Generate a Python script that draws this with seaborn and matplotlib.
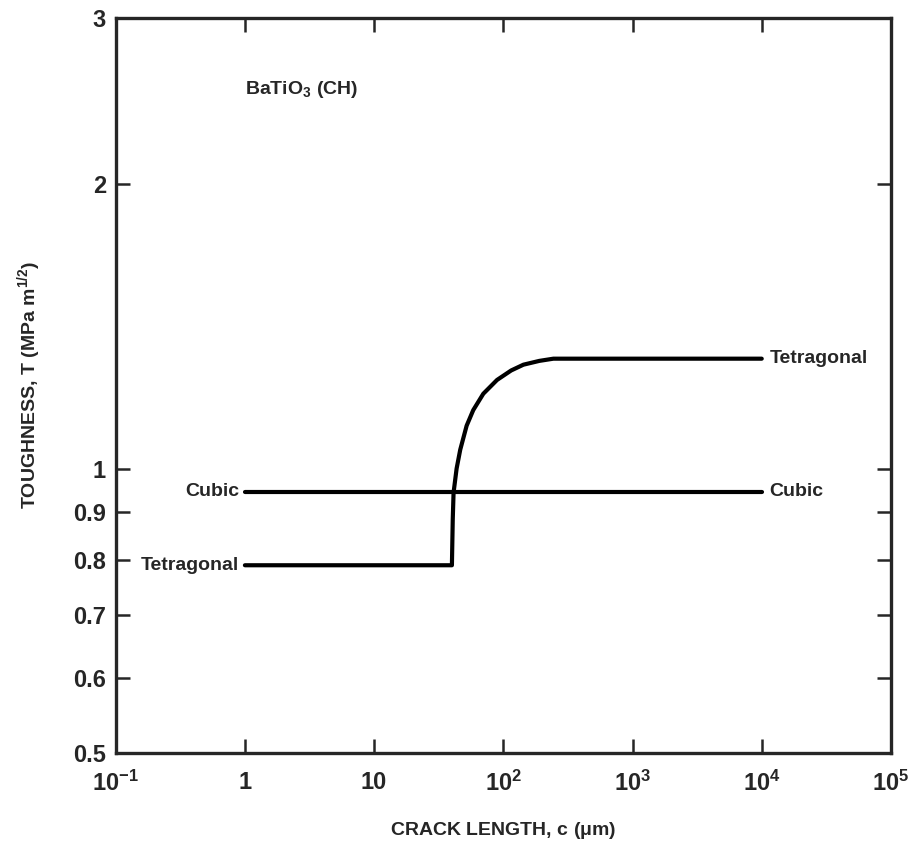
import matplotlib
matplotlib.use("Agg")
import matplotlib.pyplot as plt
import matplotlib.ticker as ticker
import seaborn as sns
import pandas as pd

# values
cubic_x = [1, 1e4]
cubic_y = [0.945, 0.945]
tetra_x = [1, 40, 40.6, 41.2, 43.5, 46.4, 52, 58.5, 70, 89.4, 115, 143, 190, 244, 1e4]
tetra_y = [0.79, 0.79, 0.883, 0.943, 1.0, 1.047, 1.11, 1.153, 1.2, 1.241, 1.27, 1.288, 1.30, 1.307, 1.307]

x_ticks = [1e-1, 1, 10, 1e2, 1e3, 1e4, 1e5]
x_labels = ["$10^{-1}$", "1", "10", "$10^2$", "$10^3$", "$10^4$", "$10^5$"]
y_ticks = [0.5, 0.6, 0.7, 0.8, 0.9, 1, 2, 3]
y_labels = ["0.5", "0.6", "0.7", "0.8", "0.9", "1", "2", "3"]

sns.set_style("ticks")
plt.rcParams["font.family"] = ["Liberation Sans", "DejaVu Sans"]
plt.rcParams["mathtext.fontset"] = "custom"
plt.rcParams["mathtext.rm"] = "Liberation Sans:bold"
plt.rcParams["mathtext.it"] = "Liberation Sans:bold"

df = pd.concat([
    pd.DataFrame({"c": cubic_x, "T": cubic_y, "phase": "Cubic"}),
    pd.DataFrame({"c": tetra_x, "T": tetra_y, "phase": "Tetragonal"}),
])

fig = plt.figure(figsize=(9.11, 8.46), dpi=100)
ax = fig.add_axes([0.127, 0.110, 0.851, 0.869])

sns.lineplot(data=df, x="c", y="T", units="phase", estimator=None, sort=False,
             color="black", linewidth=3, ax=ax, legend=False)

ax.set_xscale("log")
ax.set_yscale("log")
ax.set_xlim(0.1, 1e5)
ax.set_ylim(0.5, 3)

ax.xaxis.set_minor_locator(ticker.NullLocator())
ax.set_xticks(x_ticks)
ax.set_xticklabels(x_labels)
ax.yaxis.set_minor_locator(ticker.NullLocator())
ax.set_yticks(y_ticks)
ax.set_yticklabels(y_labels)

ax.tick_params(axis="both", direction="in", length=10, width=1.8,
               top=True, right=True, labelsize=17, pad=7)
ax.tick_params(axis="x", pad=13)
for lab in ax.get_xticklabels() + ax.get_yticklabels():
    lab.set_fontweight("bold")
for s in ax.spines.values():
    s.set_linewidth(2.4)
    s.set_visible(True)

ax.set_xlabel("CRACK LENGTH, c ($\\mu$m)", fontsize=14, fontweight="bold", labelpad=17)
ax.set_ylabel("TOUGHNESS, T (MPa m$^{1/2}$)", fontsize=14, fontweight="bold", labelpad=22)

# line labels
ax.text(0.9, cubic_y[0], "Cubic", ha="right", va="center", fontsize=14, fontweight="bold")
ax.text(0.9, tetra_y[0], "Tetragonal", ha="right", va="center", fontsize=14, fontweight="bold")
ax.text(1.15e4, cubic_y[-1], "Cubic", ha="left", va="center", fontsize=14, fontweight="bold")
ax.text(1.15e4, tetra_y[-1], "Tetragonal", ha="left", va="center", fontsize=14, fontweight="bold")
ax.text(1, 2.52, "BaTiO$_3$ (CH)", ha="left", va="center", fontsize=14, fontweight="bold")

fig.savefig("out.png", dpi=100)
